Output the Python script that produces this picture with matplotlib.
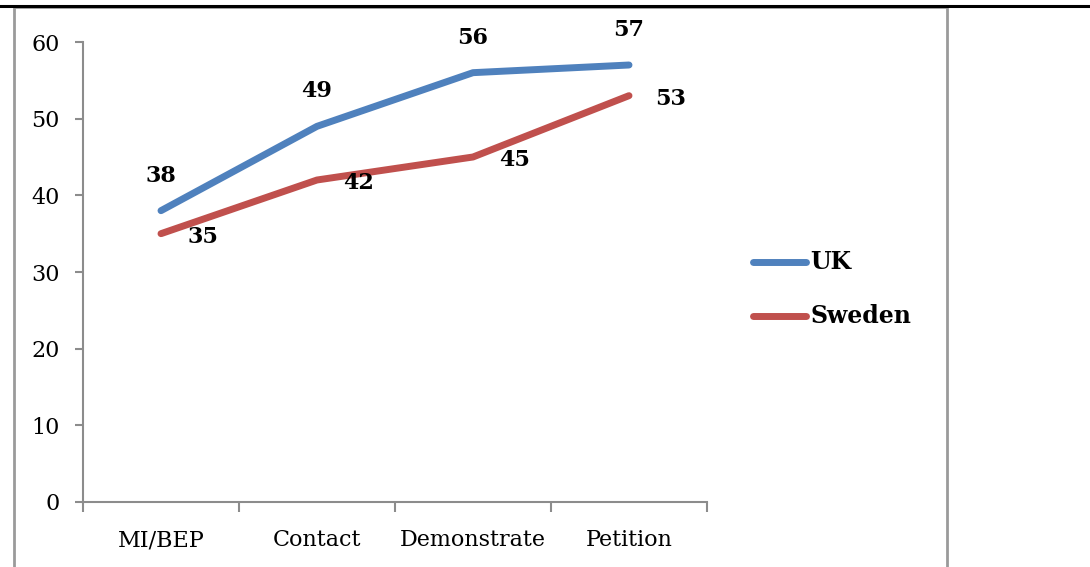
import matplotlib
matplotlib.use("Agg")
import matplotlib.pyplot as plt
from matplotlib.lines import Line2D
from matplotlib.patches import Rectangle

categories = ["MI/BEP", "Contact", "Demonstrate", "Petition"]
uk = [38, 49, 56, 57]
sweden = [35, 42, 45, 53]
yticks = [0, 10, 20, 30, 40, 50, 60]

blue = "#4F81BD"
red = "#C0504D"
grey = "#8C8C8C"
serif = "DejaVu Serif"

fig = plt.figure(figsize=(10.9, 5.67), dpi=100)

# outer cell frame and top rule
fig.patches.append(Rectangle((14 / 1090, -0.05), (947 - 14) / 1090, 1.05 - 7 / 567,
                             transform=fig.transFigure, fill=False,
                             edgecolor="#9A9A9A", linewidth=2.0))
fig.lines.append(Line2D([0, 1], [1 - 5.5 / 567, 1 - 5.5 / 567], transform=fig.transFigure,
                        color="black", linewidth=2.2))

ax = fig.add_axes([83 / 1090, 65 / 567, (707 - 83) / 1090, (502 - 42) / 567])
x = range(len(categories))
ax.plot(x, uk, color=blue, linewidth=5, solid_capstyle="round", solid_joinstyle="round")
ax.plot(x, sweden, color=red, linewidth=5, solid_capstyle="round", solid_joinstyle="round")

ax.set_xlim(-0.5, len(categories) - 0.5)
ax.set_ylim(0, 60)
ax.set_yticks(yticks)
ax.set_yticklabels([str(v) for v in yticks], fontfamily=serif, fontsize=16)
ax.set_xticks([i - 0.5 for i in range(len(categories) + 1)])
ax.set_xticklabels([])
ax.set_xticks(list(x), minor=True)
ax.set_xticklabels(categories, minor=True, fontfamily=serif, fontsize=16)
ax.tick_params(axis="x", which="major", length=7, width=1.5, color=grey, direction="out")
ax.tick_params(axis="x", which="minor", length=0, pad=19.5)
ax.tick_params(axis="y", length=6, width=1.5, color=grey, direction="out", pad=11)

for side in ("top", "right"):
    ax.spines[side].set_visible(False)
for side in ("left", "bottom"):
    ax.spines[side].set_color(grey)
    ax.spines[side].set_linewidth(1.5)

for i, v in enumerate(uk):
    ax.annotate(str(v), (i, v), xytext=(0, 35), textcoords="offset pixels",
                ha="center", va="center", fontfamily=serif, fontweight="bold", fontsize=16)
for i, v in enumerate(sweden):
    ax.annotate(str(v), (i, v), xytext=(42, -3), textcoords="offset pixels",
                ha="center", va="center", fontfamily=serif, fontweight="bold", fontsize=16)

# legend
for y, label, c in [(262, "UK", blue), (316, "Sweden", red)]:
    yy = 1 - y / 567
    fig.lines.append(Line2D([753 / 1090, 806 / 1090], [yy, yy], transform=fig.transFigure,
                            color=c, linewidth=5, solid_capstyle="round"))
    fig.text(810 / 1090, yy, label, ha="left", va="center", fontfamily=serif,
             fontweight="bold", fontsize=17)

fig.savefig("out.png", dpi=100)
